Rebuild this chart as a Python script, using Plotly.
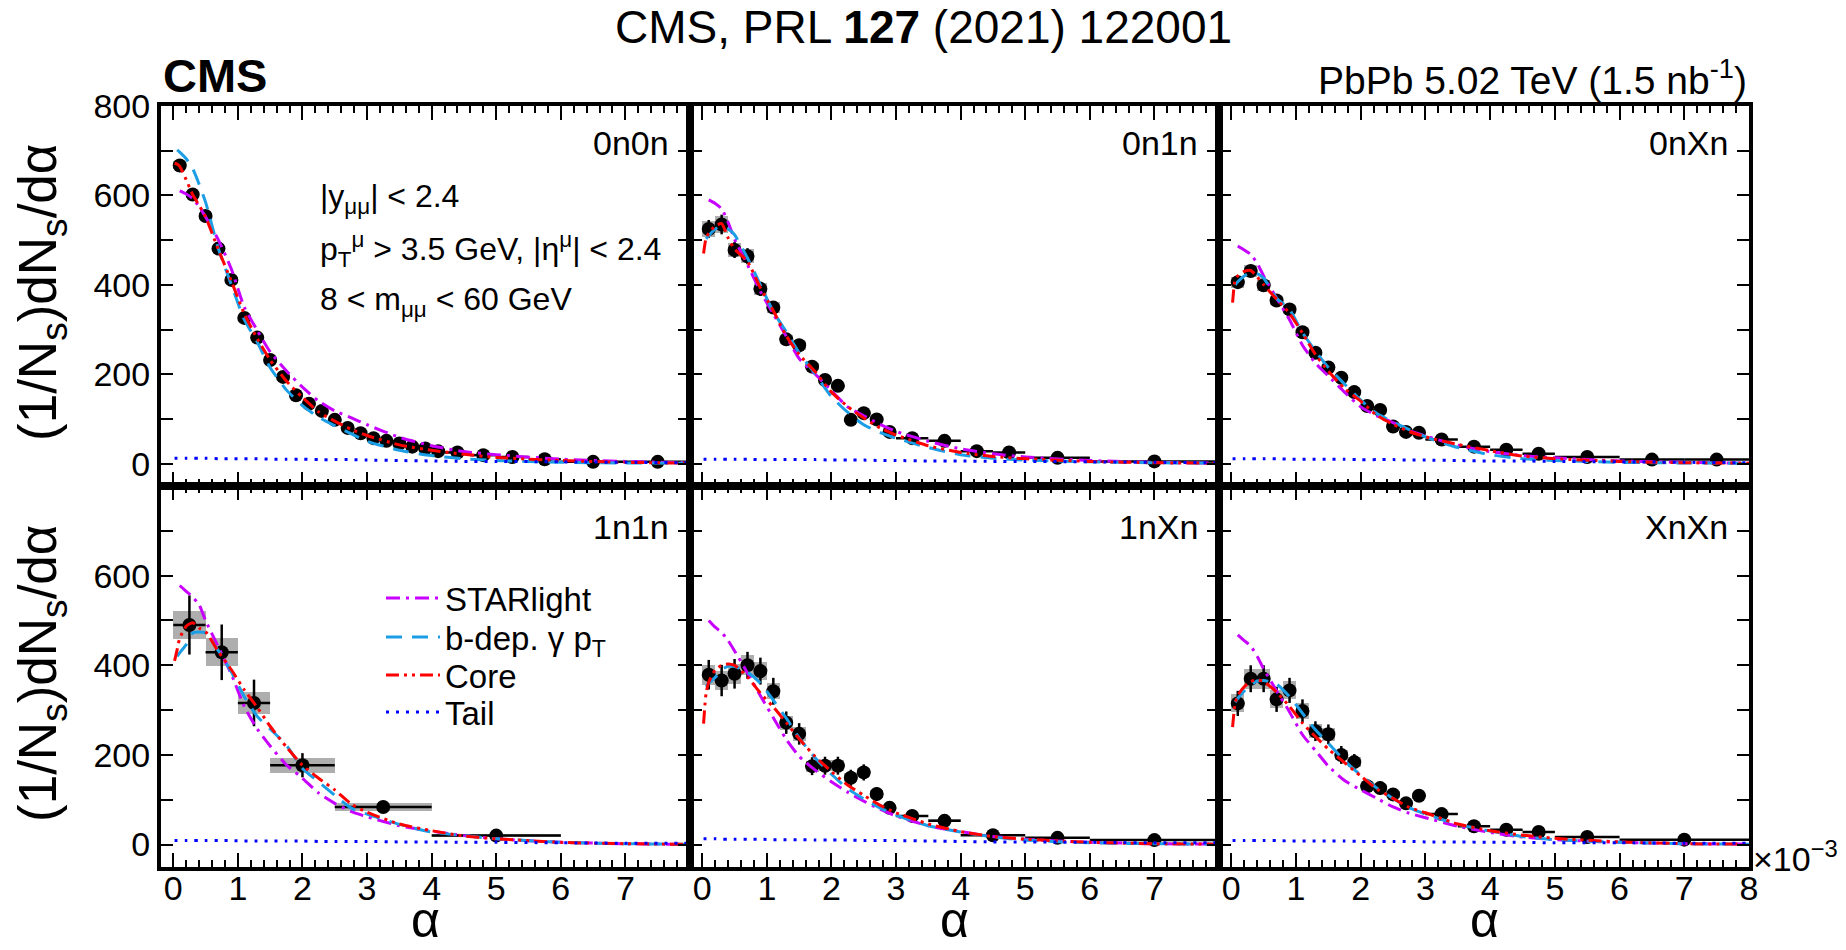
import plotly.graph_objects as go

W, H = 1846, 950
FONT = "Arial, Liberation Sans, sans-serif"

# ---------------- panel geometry (pixels) ----------------
PX_L = [161, 690, 1219]
PX_R = [690, 1219, 1749]
PX_T = [106, 486]
PX_B = [486, 867]

panel_names = ["0n0n", "0n1n", "0nXn", "1n1n", "1nXn", "XnXn"]

# ---------------- measured data (alpha in units of 1e-3) ----------------
x_0n0n = [0.1, 0.3, 0.5, 0.7, 0.9, 1.1, 1.3, 1.5, 1.7, 1.9, 2.1, 2.3, 2.5, 2.7, 2.9,
          3.1, 3.3, 3.5, 3.7, 3.9, 4.1, 4.4, 4.8, 5.25, 5.75, 6.5, 7.5]
hw_0n0n = [0.1, 0.1, 0.1, 0.1, 0.1, 0.1, 0.1, 0.1, 0.1, 0.1, 0.1, 0.1, 0.1, 0.1, 0.1,
           0.1, 0.1, 0.1, 0.1, 0.1, 0.1, 0.2, 0.2, 0.25, 0.25, 0.5, 0.5]
y_0n0n = [667, 602, 554, 481, 411, 326, 282, 232, 194, 153, 134, 118, 98, 80, 68,
          57, 51, 45, 38, 34, 28, 25, 19, 15, 10, 4, 4]
stat_0n0n = [6, 5, 5, 5, 5, 4, 4, 4, 4, 3, 3, 3, 3, 3, 2, 2, 2, 2, 2, 2, 2, 2, 1, 1, 1, 1, 1]
sys_0n0n = [9, 8, 7, 6, 6, 5, 4, 4, 3, 3, 3, 2, 2, 2, 2, 2, 2, 1, 1, 1, 1, 1, 1, 1, 1, 1, 1]

x_0n1n = [0.1, 0.3, 0.5, 0.7, 0.9, 1.1, 1.3, 1.5, 1.7, 1.9, 2.1, 2.3, 2.5, 2.7, 2.9,
          3.25, 3.75, 4.25, 4.75, 5.5, 7.0]
hw_0n1n = [0.1, 0.1, 0.1, 0.1, 0.1, 0.1, 0.1, 0.1, 0.1, 0.1, 0.1, 0.1, 0.1, 0.1, 0.1,
           0.25, 0.25, 0.25, 0.25, 0.5, 1.0]
y_0n1n = [525, 535, 478, 464, 391, 349, 278, 265, 217, 187, 174, 98, 113, 99, 71,
          57, 51, 28, 25, 13, 5]
stat_0n1n = [20, 22, 18, 18, 16, 14, 12, 12, 10, 10, 9, 6, 7, 6, 5, 3, 3, 2, 2, 1, 1]
sys_0n1n = [17, 20, 16, 16, 14, 12, 10, 10, 8, 8, 7, 5, 5, 4, 4, 2, 2, 1, 1, 1, 1]

x_0nXn = [0.1, 0.3, 0.5, 0.7, 0.9, 1.1, 1.3, 1.5, 1.7, 1.9, 2.1, 2.3, 2.5, 2.7, 2.9,
          3.25, 3.75, 4.25, 4.75, 5.5, 6.5, 7.5]
hw_0nXn = [0.1, 0.1, 0.1, 0.1, 0.1, 0.1, 0.1, 0.1, 0.1, 0.1, 0.1, 0.1, 0.1, 0.1, 0.1,
           0.25, 0.25, 0.25, 0.25, 0.5, 0.5, 0.5]
y_0nXn = [406, 431, 399, 365, 345, 294, 248, 215, 192, 160, 129, 120, 83, 71, 69,
          54, 38, 31, 22, 15, 9, 9]
stat_0nXn = [9, 9, 8, 8, 7, 7, 6, 6, 5, 5, 4, 4, 3, 3, 3, 2, 2, 2, 1, 1, 1, 1]
sys_0nXn = [12, 13, 12, 11, 10, 9, 7, 6, 6, 5, 4, 4, 3, 3, 3, 2, 2, 1, 1, 1, 1, 1]

x_1n1n = [0.25, 0.75, 1.25, 2.0, 3.25, 5.0]
hw_1n1n = [0.25, 0.25, 0.25, 0.5, 0.75, 1.0]
y_1n1n = [490, 429, 316, 177, 84, 20]
stat_1n1n = [66, 62, 52, 27, 13, 5]
sys_1n1n = [32, 31, 25, 17, 8, 3]

x_1nXn = [0.1, 0.3, 0.5, 0.7, 0.9, 1.1, 1.3, 1.5, 1.7, 1.9, 2.1, 2.3, 2.5, 2.7, 2.9,
          3.25, 3.75, 4.5, 5.5, 7.0]
hw_1nXn = [0.1, 0.1, 0.1, 0.1, 0.1, 0.1, 0.1, 0.1, 0.1, 0.1, 0.1, 0.1, 0.1, 0.1, 0.1,
           0.25, 0.25, 0.5, 0.5, 1.0]
y_1nXn = [379, 366, 381, 400, 387, 342, 272, 247, 175, 176, 176, 149, 161, 113, 82,
          64, 53, 21, 15, 10]
stat_1nXn = [33, 35, 33, 30, 30, 30, 25, 24, 20, 20, 20, 18, 18, 15, 13, 5, 5, 3, 2, 1]
sys_1nXn = [22, 22, 22, 22, 20, 18, 16, 15, 12, 12, 12, 10, 10, 8, 6, 3, 3, 2, 1, 1]

x_XnXn = [0.1, 0.3, 0.5, 0.7, 0.9, 1.1, 1.3, 1.5, 1.7, 1.9, 2.1, 2.3, 2.5, 2.7, 2.9,
          3.25, 3.75, 4.25, 4.75, 5.5, 7.0]
hw_XnXn = [0.1, 0.1, 0.1, 0.1, 0.1, 0.1, 0.1, 0.1, 0.1, 0.1, 0.1, 0.1, 0.1, 0.1, 0.1,
           0.25, 0.25, 0.25, 0.25, 0.5, 1.0]
y_XnXn = [315, 370, 370, 324, 344, 298, 253, 246, 200, 184, 130, 126, 112, 92, 109,
          68, 41, 33, 28, 17, 11]
stat_XnXn = [28, 30, 30, 28, 28, 26, 22, 22, 20, 18, 15, 15, 12, 12, 12, 5, 4, 3, 3, 2, 1]
sys_XnXn = [20, 22, 22, 20, 20, 18, 15, 15, 12, 12, 10, 9, 8, 7, 7, 3, 2, 2, 2, 1, 1]

# ---------------- model curves, read at these alpha values ----------------
alpha_grid = [0.02, 0.06, 0.1, 0.2, 0.3, 0.4, 0.5, 0.7, 0.9, 1.1, 1.3, 1.5, 1.75, 2.0,
              2.25, 2.5, 2.75, 3.0, 3.5, 4.0, 4.5, 5.0, 6.0, 7.0, 8.0]

star_0n0n = [None, None, 610, 603, 593, 575, 552, 500, 435, 350, 298, 250, 208, 171, 140, 118, 103, 87, 59, 40, 27, 20, 10, 5, 2]
bdep_0n0n = [None, 702, 697, 682, 660, 625, 585, 480, 400, 322, 272, 215, 165, 130, 104, 85, 67, 50, 30, 18, 11, 7, 3, 1.5, 1]
core_0n0n = [672, 670, 665, 635, 602, 578, 552, 478, 408, 335, 280, 232, 185, 148, 116, 95, 77, 63, 42, 30, 21, 14, 7, 3, 1]
tail_0n0n = [12, 12, 12, 12, 12, 12, 12, 11, 11, 11, 11, 10, 10, 10, 9, 9, 9, 8, 7, 6, 5, 5, 4, 3, 2]

star_0n1n = [None, None, 590, 582, 570, 540, 502, 445, 385, 335, 285, 235, 200, 163, 127, 107, 88, 72, 50, 33, 22, 15, 7, 3, 1]
bdep_0n1n = [None, 503, 510, 525, 531, 525, 512, 460, 400, 340, 295, 248, 200, 150, 115, 87, 70, 57, 36, 20, 12, 8, 4, 2, 1]
core_0n1n = [470, 505, 515, 532, 537, 505, 480, 452, 393, 342, 286, 244, 205, 160, 128, 102, 80, 64, 40, 25, 16, 11, 5, 2, 1]
tail_0n1n = [10, 10, 10, 10, 10, 10, 10, 10, 9, 9, 9, 9, 9, 8, 8, 8, 7, 7, 6, 6, 5, 5, 4, 3, 2]

star_0nXn = [None, None, 487, 478, 468, 448, 420, 370, 322, 265, 225, 196, 160, 127, 107, 92, 74, 62, 41, 27, 18, 13, 6, 3, 1]
bdep_0nXn = [None, 400, 407, 420, 427, 425, 415, 370, 345, 293, 252, 215, 178, 142, 112, 93, 76, 60, 36, 20, 11, 7, 3, 1.5, 1]
core_0nXn = [360, 412, 420, 430, 432, 418, 400, 368, 336, 292, 244, 207, 168, 140, 108, 88, 72, 60, 43, 29, 17, 11, 5, 2, 1]
tail_0nXn = [11, 11, 11, 11, 11, 11, 11, 11, 10, 10, 10, 10, 10, 9, 9, 9, 8, 8, 7, 6, 6, 5, 4, 3, 2]

star_1n1n = [None, None, 578, 565, 552, 535, 500, 440, 380, 308, 258, 220, 178, 148, 115, 92, 74, 62, 42, 30, 20, 13, 5, 2, 0.5]
bdep_1n1n = [None, 420, 428, 446, 472, 474, 472, 432, 385, 330, 286, 258, 222, 170, 140, 110, 82, 68, 45, 28, 20, 13, 5, 2, 0.5]
core_1n1n = [410, 435, 460, 487, 495, 483, 475, 430, 390, 345, 306, 264, 218, 177, 148, 122, 91, 72, 46, 31, 19, 13, 5, 2, 0.5]
tail_1n1n = [9, 9, 9, 9, 9, 9, 9, 9, 9, 8, 8, 8, 8, 8, 7, 7, 7, 7, 6, 6, 5, 5, 4, 3, 3]

star_1nXn = [None, None, 500, 485, 473, 455, 432, 383, 332, 283, 235, 197, 166, 140, 117, 97, 79, 64, 42, 29, 18, 12, 5, 2, 1]
bdep_1nXn = [None, 352, 360, 373, 390, 398, 397, 385, 360, 322, 282, 238, 193, 157, 125, 102, 82, 66, 42, 28, 17, 10, 4, 2, 1]
core_1nXn = [270, 339, 362, 390, 400, 403, 400, 374, 338, 307, 272, 236, 196, 163, 133, 110, 88, 71, 46, 29, 18, 12, 5, 2, 1]
tail_1nXn = [13, 13, 13, 13, 12, 12, 12, 12, 12, 11, 11, 11, 10, 10, 10, 9, 9, 9, 8, 7, 6, 6, 5, 4, 4]

star_XnXn = [None, None, 468, 455, 443, 420, 392, 343, 296, 245, 210, 175, 143, 122, 103, 84, 70, 60, 41, 27, 17, 11, 5, 2, 1]
bdep_XnXn = [None, 318, 326, 343, 356, 365, 366, 358, 330, 293, 256, 226, 187, 155, 126, 103, 82, 68, 45, 30, 18, 11, 5, 2, 1]
core_XnXn = [262, 316, 333, 352, 364, 367, 364, 340, 308, 271, 241, 213, 183, 153, 124, 103, 83, 71, 46, 31, 21, 14, 6, 2, 1]
tail_XnXn = [9, 9, 9, 9, 9, 9, 9, 9, 8, 8, 8, 8, 8, 7, 7, 7, 7, 6, 6, 5, 5, 4, 4, 3, 3]

x_tick_vals_full = [0, 1, 2, 3, 4, 5, 6, 7, 8]
x_tick_vals_short = [0, 1, 2, 3, 4, 5, 6, 7]
y_tick_vals_top = [0, 200, 400, 600, 800]
y_tick_vals_bottom = [0, 200, 400, 600]

# ---------------- assemble ----------------
panels = [
    (x_0n0n, hw_0n0n, y_0n0n, stat_0n0n, sys_0n0n, star_0n0n, bdep_0n0n, core_0n0n, tail_0n0n),
    (x_0n1n, hw_0n1n, y_0n1n, stat_0n1n, sys_0n1n, star_0n1n, bdep_0n1n, core_0n1n, tail_0n1n),
    (x_0nXn, hw_0nXn, y_0nXn, stat_0nXn, sys_0nXn, star_0nXn, bdep_0nXn, core_0nXn, tail_0nXn),
    (x_1n1n, hw_1n1n, y_1n1n, stat_1n1n, sys_1n1n, star_1n1n, bdep_1n1n, core_1n1n, tail_1n1n),
    (x_1nXn, hw_1nXn, y_1nXn, stat_1nXn, sys_1nXn, star_1nXn, bdep_1nXn, core_1nXn, tail_1nXn),
    (x_XnXn, hw_XnXn, y_XnXn, stat_XnXn, sys_XnXn, star_XnXn, bdep_XnXn, core_XnXn, tail_XnXn),
]

models = [
    ("STARlight", "#C800FF", "14px,6px,3px,6px", "legend"),
    ("b-dep. \u03b3 p<sub>T</sub>", "#1C9EE6", "16px,10px", "legend2"),
    ("Core", "#FF0000", "13px,5px,3px,5px,3px,5px", "legend3"),
    ("Tail", "#0000FF", "3px,7px", "legend4"),
]
legend_rows_px = [598, 637, 675, 712]

fig = go.Figure()
layout_axes = {}

for i, (xs, hw, ys, st, sy, c_star, c_bdep, c_core, c_tail) in enumerate(panels):
    row, col = i // 3, i % 3
    xa = "x" if i == 0 else f"x{i+1}"
    ya = "y" if i == 0 else f"y{i+1}"

    # systematic uncertainty boxes
    fig.add_trace(go.Bar(
        x=xs, y=[2 * s for s in sy], base=[v - s for v, s in zip(ys, sy)],
        width=[2 * h for h in hw],
        marker=dict(color="rgba(140,140,140,0.7)", line=dict(width=0)),
        showlegend=False, hoverinfo="skip", xaxis=xa, yaxis=ya))

    # data points with stat errors
    fig.add_trace(go.Scatter(
        x=xs, y=ys, mode="markers",
        marker=dict(color="black", size=14, symbol="circle"),
        error_y=dict(type="data", array=st, color="black", thickness=2.5, width=0),
        error_x=dict(type="data", array=hw, color="black", thickness=2.5, width=0),
        showlegend=False, xaxis=xa, yaxis=ya))

    for (name, color, dash, lg), vals in zip(models, [c_star, c_bdep, c_core, c_tail]):
        fig.add_trace(go.Scatter(
            x=alpha_grid, y=vals, mode="lines", name=name,
            line=dict(color=color, width=3, dash=dash, shape="spline", smoothing=0.6),
            showlegend=(i == 3), legend=lg, legendgroup=name, xaxis=xa, yaxis=ya))

    xdom = [PX_L[col] / W, PX_R[col] / W]
    ydom = [1 - PX_B[row] / H, 1 - PX_T[row] / H]

    xtv = x_tick_vals_full if col == 2 else x_tick_vals_short
    ytv = y_tick_vals_top if row == 0 else y_tick_vals_bottom

    common = dict(showline=True, linewidth=4, linecolor="black", mirror="allticks",
                  ticks="inside", tickcolor="black", tickwidth=2,
                  showgrid=False, zeroline=False, automargin=False,
                  tickfont=dict(size=34, color="black", family=FONT))
    layout_axes["xaxis" if i == 0 else f"xaxis{i+1}"] = dict(
        domain=xdom, anchor=ya, range=[-0.19, 8.0],
        tickmode="array", tickvals=xtv, ticktext=[str(v) for v in xtv],
        showticklabels=(row == 1), ticklen=14, ticklabelstandoff=-12,
        minor=dict(tick0=0, dtick=0.2, ticks="inside", ticklen=7, tickwidth=2,
                   tickcolor="black", showgrid=False),
        **common)
    layout_axes["yaxis" if i == 0 else f"yaxis{i+1}"] = dict(
        domain=ydom, anchor=xa, range=[-50, 800],
        tickmode="array", tickvals=ytv, ticktext=[str(v) for v in ytv],
        showticklabels=(col == 0), ticklen=12,
        minor=dict(tick0=0, dtick=100, ticks="inside", ticklen=12, tickwidth=2,
                   tickcolor="black", showgrid=False),
        **common)


def ann(text, xpx, ypx, size, xanchor="center", yanchor="middle", **kw):
    return dict(text=text, x=xpx / W, y=1 - ypx / H, xref="paper", yref="paper",
                showarrow=False, xanchor=xanchor, yanchor=yanchor,
                font=dict(size=size, color="black", family=FONT), **kw)


annotations = [
    ann("CMS, PRL <b>127</b> (2021) 122001", W / 2, 27, 46),
    ann("<b>CMS</b>", 161, 75, 47, xanchor="left"),
    ann("PbPb 5.02 TeV (1.5 nb<sup>-1</sup>)", 1749, 78, 39, xanchor="right"),
    ann("|y<sub>\u03bc\u03bc</sub>| < 2.4", 318, 198, 32, xanchor="left"),
    ann("p<sub>T</sub><sup>\u03bc</sup> > 3.5 GeV, |\u03b7<sup>\u03bc</sup>| < 2.4", 318, 250, 32, xanchor="left"),
    ann("8 < m<sub>\u03bc\u03bc</sub> < 60 GeV", 318, 302, 32, xanchor="left"),
    ann("\u00d710<sup>\u22123</sup>", 1751, 856, 34, xanchor="left"),
]
label_offset = [37, 41]
for i, name in enumerate(panel_names):
    row, col = i // 3, i % 3
    annotations.append(ann(name, PX_R[col] - 19, PX_T[row] + label_offset[row], 34, xanchor="right"))
for row in range(2):
    yc = [293, 674][row]
    annotations.append(ann("(1/N<sub>s</sub>)dN<sub>s</sub>/d\u03b1", 41, yc, 53, textangle=-90))
for col in range(3):
    annotations.append(ann("\u03b1", (PX_L[col] + PX_R[col]) / 2, 950, 50, yanchor="bottom"))

legend_common = dict(xanchor="left", yanchor="middle", bgcolor="rgba(0,0,0,0)",
                     font=dict(size=33, family=FONT, color="black"),
                     itemwidth=54, tracegroupgap=0)
legends = {}
for (name, color, dash, lg), ypx in zip(models, legend_rows_px):
    legends[lg] = dict(x=381 / W, y=1 - ypx / H, **legend_common)

fig.update_layout(
    width=W, height=H,
    margin=dict(l=0, r=0, t=0, b=0, autoexpand=False),
    paper_bgcolor="white", plot_bgcolor="white",
    barmode="overlay", bargap=0,
    font=dict(family=FONT, color="black"),
    showlegend=True,
    annotations=annotations,
    **legends,
    **layout_axes,
)

fig.write_html("out.html")
